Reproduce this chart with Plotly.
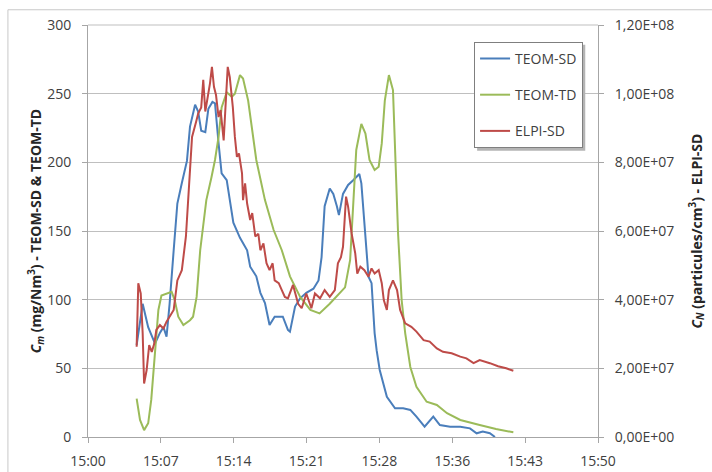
import plotly.graph_objects as go

# ---------------- data (time in minutes after 15:00) ----------------
x_tick_labels = ["15:00", "15:07", "15:14", "15:21", "15:28", "15:36", "15:43", "15:50"]
x_tick_minutes = [0, 50/7, 100/7, 150/7, 200/7, 250/7, 300/7, 50]

left_tick_vals = [0, 50, 100, 150, 200, 250, 300]
right_tick_vals = [0, 2e7, 4e7, 6e7, 8e7, 1e8, 1.2e8]
right_tick_labels = ["0,00E+00", "2,00E+07", "4,00E+07", "6,00E+07", "8,00E+07", "1,00E+08", "1,20E+08"]

teom_sd_min = [4.77, 5.36, 5.9, 6.57, 7.06, 7.4, 7.7, 8.0, 8.4, 8.76, 9.2, 9.7, 10.0, 10.5, 10.8,
               11.1, 11.5, 11.8, 12.2, 12.45, 12.8, 13.1, 13.6, 13.9, 14.25, 14.9, 15.6, 15.9,
               16.5, 16.9, 17.35, 17.8, 18.3, 19.1, 19.6, 19.8, 20.3, 20.8, 21.4, 22.1, 22.6,
               22.9, 23.2, 23.7, 24.05, 24.4, 24.6, 25.0, 25.5, 26.0, 26.6, 26.8, 27.0, 27.3,
               27.5, 27.8, 28.1, 28.3, 28.6, 29.3, 30.1, 30.9, 31.6, 32.2, 33.0, 33.85, 34.5,
               35.5, 36.5, 37.45, 38.1, 38.7, 39.4, 39.9]
teom_sd = [67, 97, 80, 68, 76, 80, 73, 97, 136, 170, 185, 201, 226, 242, 237,
           223, 222, 239, 244, 243, 214, 192, 187, 172, 156, 145, 136, 124,
           117, 105, 97.5, 81.5, 87.6, 87.6, 78, 76.7, 95, 101, 105, 108, 114,
           131, 168, 181, 177, 168, 161.6, 177, 183.5, 187, 191.5, 184.7, 163, 136,
           116.7, 112, 75.7, 63, 48.8, 29.3, 20.9, 20.9, 19.7, 14.8, 7.5, 14.8, 8.7,
           7.5, 7.5, 6.3, 2.7, 3.9, 2.7, 0]

teom_td_min = [4.77, 5.1, 5.5, 5.9, 6.2, 6.6, 6.9, 7.2, 7.9, 8.2, 8.5, 8.85, 9.35, 10.0, 10.3,
               10.65, 11.0, 11.3, 11.6, 12.1, 12.45, 12.8, 13.1, 13.6, 14.1, 14.4, 14.9, 15.2,
               15.7, 16.5, 17.35, 18.2, 19.0, 19.8, 20.8, 21.8, 22.7, 23.7, 24.5, 25.2, 25.7,
               26.0, 26.3, 26.8, 27.2, 27.6, 28.1, 28.5, 28.8, 29.1, 29.5, 29.9, 30.1, 30.4,
               30.75, 31.1, 31.6, 32.2, 33.2, 34.2, 35.2, 36.5, 38.4, 40.0, 41.7]
teom_td = [28, 12.4, 5, 10, 27, 63, 92.5, 103, 104.6, 105.8, 99.7, 87.6, 81.5, 85, 87.6,
           102, 136, 156, 172.5, 189, 201.7, 218.6, 240, 251, 247.7, 250, 263.5, 261,
           245, 201.7, 172.5, 150.7, 136, 117, 102, 92.5, 90, 97, 103, 109, 129,
           165, 209, 228, 221, 201.7, 194.4, 196.8, 213.8, 245, 263.5, 252.6, 209, 148,
           99.7, 75.5, 51, 36.6, 25.7, 23.3, 17.3, 12.4, 8.7, 5.8, 3.4]

elpi_sd_min = [4.77, 4.93, 5.17, 5.36, 5.5, 5.75, 6.0, 6.25, 6.5, 6.7, 7.05, 7.4, 7.7, 8.0, 8.4,
               8.76, 9.2, 9.6, 9.85, 10.2, 10.6, 10.8, 11.1, 11.3, 11.5, 11.7, 11.96, 12.15,
               12.35, 12.55, 12.8, 13.0, 13.3, 13.5, 13.7, 13.9, 14.2, 14.4, 14.6, 14.8, 15.1,
               15.2, 15.4, 15.6, 15.9, 16.1, 16.4, 16.7, 16.9, 17.2, 17.5, 17.8, 18.1, 18.3,
               18.7, 19.0, 19.3, 19.6, 20.1, 20.6, 20.95, 21.4, 21.9, 22.25, 22.75, 23.2, 23.7,
               24.2, 24.5, 24.8, 25.0, 25.3, 25.5, 25.85, 26.2, 26.4, 26.7, 27.1, 27.5, 27.8,
               28.1, 28.5, 28.8, 29.0, 29.3, 29.5, 29.9, 30.3, 30.6, 31.1, 31.7, 32.2, 32.9,
               33.5, 34.2, 34.8, 35.65, 36.5, 37.1, 37.8, 38.4, 39.4, 40.2, 41.0, 41.7]
elpi_sd = [2.63e7, 4.48e7, 4.18e7, 3.02e7, 1.56e7, 1.95e7, 2.68e7, 2.48e7, 2.72e7, 3.12e7,
           3.26e7, 3.16e7, 3.36e7, 3.50e7, 3.70e7, 4.56e7, 4.86e7, 5.84e7, 7.20e7, 8.74e7,
           9.18e7, 9.42e7, 9.60e7, 1.040e8, 9.48e7, 9.80e7, 1.030e8, 1.078e8, 1.020e8, 9.96e7,
           9.32e7, 9.52e7, 8.64e7, 9.72e7, 1.078e8, 1.048e8, 9.60e7, 8.74e7, 8.16e7, 8.26e7,
           7.68e7, 6.90e7, 7.39e7, 6.80e7, 6.32e7, 6.52e7, 5.84e7, 5.92e7, 5.44e7, 5.64e7,
           5.06e7, 4.86e7, 5.06e7, 4.56e7, 4.48e7, 4.28e7, 4.08e7, 4.04e7, 4.43e7, 3.88e7,
           3.75e7, 4.18e7, 3.75e7, 4.18e7, 4.04e7, 4.28e7, 4.08e7, 4.28e7, 5.06e7, 5.24e7,
           5.54e7, 7.00e7, 6.71e7, 5.92e7, 5.35e7, 4.76e7, 4.96e7, 4.86e7, 4.67e7, 4.91e7,
           4.76e7, 4.86e7, 4.48e7, 3.99e7, 3.70e7, 4.28e7, 4.56e7, 4.28e7, 3.70e7, 3.31e7,
           3.21e7, 3.07e7, 2.82e7, 2.78e7, 2.58e7, 2.48e7, 2.44e7, 2.34e7, 2.29e7, 2.15e7,
           2.24e7, 2.15e7, 2.06e7, 2.00e7, 1.93e7]

# ---------------- figure ----------------
FONT = "Open Sans"
TXT = "#404040"
AX = "#a6a6a6"
GRID = "#bfbfbf"

fig = go.Figure()
fig.add_trace(go.Scatter(x=teom_sd_min, y=teom_sd, name="TEOM-SD", mode="lines",
                         line=dict(color="#4A7EBB", width=2), legendgroup="a"))
fig.add_trace(go.Scatter(x=teom_td_min, y=teom_td, name="TEOM-TD", mode="lines",
                         line=dict(color="#9BBB59", width=2), legendgroup="b"))
fig.add_trace(go.Scatter(x=elpi_sd_min, y=elpi_sd, name="ELPI-SD", mode="lines",
                         line=dict(color="#BE4B48", width=2), legendgroup="c", yaxis="y2"))

fig.update_layout(
    width=712, height=472,
    margin=dict(l=88, r=114, t=25, b=35, autoexpand=False),
    paper_bgcolor="white", plot_bgcolor="white",
    font=dict(family=FONT, size=14, color=TXT),
    showlegend=True,
    legend=dict(x=0.757, y=0.959, xanchor="left", yanchor="top",
                bgcolor="white", bordercolor="#7f7f7f", borderwidth=1,
                font=dict(family=FONT, size=14, color=TXT), tracegroupgap=15),
    xaxis=dict(range=[0, 50], tickmode="array", tickvals=x_tick_minutes, ticktext=x_tick_labels,
               showgrid=False, zeroline=False, showline=True, linecolor=AX, linewidth=1,
               ticks="outside", ticklen=5, tickcolor=AX, ticklabelstandoff=6, automargin=False,
               tickfont=dict(family=FONT, size=14, color=TXT)),
    yaxis=dict(range=[0, 300], tickmode="array", tickvals=left_tick_vals,
               showgrid=True, gridcolor=GRID, gridwidth=1, zeroline=False,
               showline=True, linecolor=AX, linewidth=1, automargin=False,
               ticks="outside", ticklen=5, tickcolor=AX, ticklabelstandoff=8,
               tickfont=dict(family=FONT, size=14, color=TXT),
               title=dict(text="<b><i>C</i><sub><i>m</i></sub> (mg/Nm<sup>3</sup>) - TEOM-SD &amp; TEOM-TD</b>",
                          font=dict(family=FONT, size=14, color="#262626"), standoff=1)),
    yaxis2=dict(range=[0, 1.2e8], overlaying="y", side="right", tickmode="array",
                tickvals=right_tick_vals, ticktext=right_tick_labels, automargin=False,
                showgrid=False, zeroline=False, showline=True, linecolor=AX, linewidth=1,
                ticks="outside", ticklen=5, tickcolor=AX, ticklabelstandoff=8,
                tickfont=dict(family=FONT, size=14, color=TXT),
                title=dict(text="<b><i>C</i><sub><i>N</i></sub> (particules/cm<sup>3</sup>) - ELPI-SD</b>",
                           font=dict(family=FONT, size=14, color="#262626"), standoff=18)),
    shapes=[
        # chart-area frame
        dict(type="rect", xref="paper", yref="paper",
             x0=-0.157, y0=-0.12, x1=1.25, y1=1.037,
             line=dict(color="#c8c8c8", width=1), layer="below"),
        # top gridline (at the axis maximum)
        dict(type="line", xref="paper", yref="paper", x0=0, x1=1, y0=1, y1=1,
             line=dict(color=GRID, width=1), layer="below"),
        # legend drop shadow
        dict(type="rect", xref="paper", yref="paper",
             x0=0.763, y0=0.695, x1=0.975, y1=0.952,
             line=dict(width=0), fillcolor="#b4b4b4", layer="above"),
    ],
)

fig.write_html("out.html", config={"displayModeBar": False},
               post_script="document.body.style.margin='0px';")
